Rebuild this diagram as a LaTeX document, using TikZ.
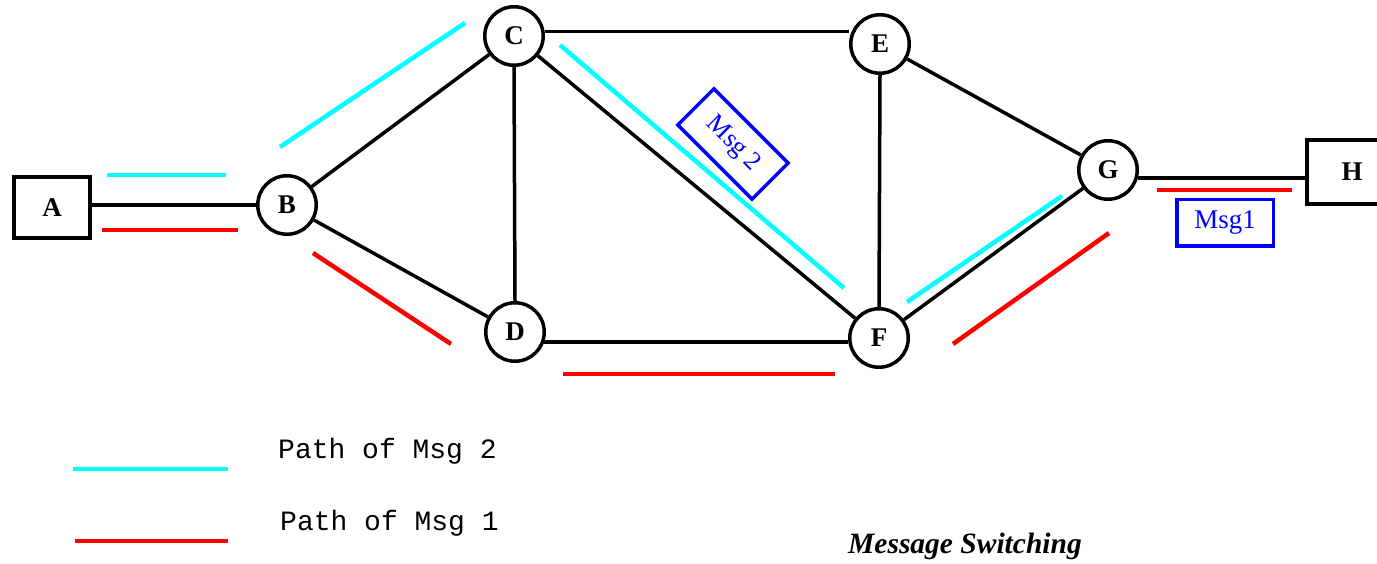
\documentclass[tikz,border=0pt]{standalone}
\usepackage{fontspec}
\setmainfont{Liberation Serif}
\setmonofont{Liberation Mono}
\definecolor{msgtwocol}{RGB}{0,255,255}
\definecolor{msgonecol}{RGB}{255,0,0}
\definecolor{msgblue}{RGB}{0,0,255}
\tikzset{
  station/.style={circle,draw,line width=3.5pt,minimum size=58.5pt,inner sep=0pt,
    font=\fontsize{27}{29}\selectfont\bfseries},
  host/.style={rectangle,draw,line width=4pt,minimum height=61pt,inner sep=0pt,
    font=\fontsize{27}{29}\selectfont\bfseries},
  link/.style={line width=3.5pt},
  msgtwo/.style={line width=4.5pt,msgtwocol},
  msgone/.style={line width=4.5pt,msgonecol},
  msgbox/.style={rectangle,draw=msgblue,text=msgblue,line width=3.5pt,inner sep=0pt}
}
\begin{document}
\begin{tikzpicture}
        [x=1pt,y=-1pt]
        \fill[white] (0,0) rectangle (1377,564);
        \clip (0,0) rectangle (1377,564);

        % hosts and switching nodes
        \node[host,minimum width=76pt] (A) at (52,207.5) {A};
        \node[host,minimum width=90pt,minimum height=64pt] (H) at (1352,172) {H};
        \node[station] (B) at (287,205) {B};
        \node[station] (C) at (514,36) {C};
        \node[station] (D) at (515,332) {D};
        \node[station] (E) at (880,44) {E};
        \node[station] (F) at (879,338) {F};
        \node[station] (G) at (1108,170) {G};

        % links
        \draw[link] (B.west -| A.east) -- (B.west);
        \draw[link] (B) -- (C);
        \draw[link] (B) -- (D);
        \draw[link] (C.south) -- (D.north);
        \draw[link] (C.8) -- (C.8 -| E.west);
        \draw[link] (C) -- (F);
        \draw[link] (D.-19) -- (D.-19 -| F.west);
        \draw[link] (E.south) -- (F.north);
        \draw[link] (E) -- (G);
        \draw[link] (F) -- (G);
        \draw[link] (G.-15) -- (G.-15 -| H.west);

        % path of msg 2
        \draw[msgtwo] (107,175) -- (226,175);
        \draw[msgtwo] (280,147) -- (465,23);
        \draw[msgtwo] (560,45) -- (844,288);
        \draw[msgtwo] (907,302) -- (1062,196);

        % path of msg 1
        \draw[msgone] (102,230) -- (238,230);
        \draw[msgone] (313,253) -- (451,344);
        \draw[msgone] (563,374) -- (835,374);
        \draw[msgone] (953,344) -- (1109,233);
        \draw[msgone] (1157,190) -- (1292,190);

        % messages
        \node[msgbox,minimum width=105pt,minimum height=51pt,rotate=-45,
          font=\fontsize{26}{28}\selectfont] (msg2) at (733,144) {Msg 2};
        \node[msgbox,minimum width=96.5pt,minimum height=46.5pt,
          font=\fontsize{27}{29}\selectfont] (msg1) at (1225,223) {Msg1};

        % legend
        \draw[msgtwo] (73,469) -- (228,469);
        \draw[msgone] (75,541) -- (228,541);
        \node[anchor=base west,inner sep=0pt,font=\fontsize{28}{30}\selectfont\ttfamily]
          (leg2) at (278,458) {Path of Msg 2};
        \node[anchor=base west,inner sep=0pt,font=\fontsize{28}{30}\selectfont\ttfamily]
          (leg1) at (280,530) {Path of Msg 1};
        \node[anchor=base west,inner sep=0pt,font=\fontsize{29.5}{31}\selectfont\bfseries\itshape]
          (title) at (848,553) {Message Switching};
      \end{tikzpicture}
\end{document}
